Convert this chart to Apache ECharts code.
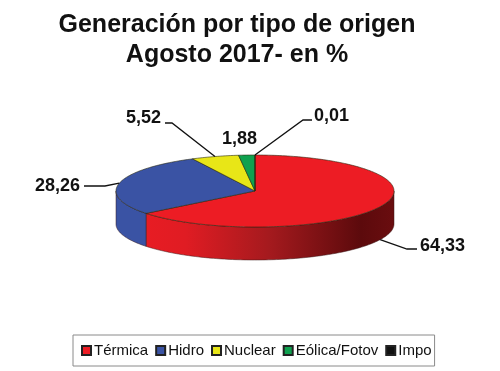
<!DOCTYPE html>
<html><head><meta charset="utf-8">
<style>html,body{margin:0;padding:0;background:#fff}#c{width:500px;height:371px}</style>
<script src="https://cdn.jsdelivr.net/npm/echarts@6/dist/echarts.min.js"></script>
</head><body><div id="c"></div>
<script>
const categories = ['Térmica','Hidro','Nuclear','Eólica/Fotov','Impo'];
const values = [64.33,28.26,5.52,1.88,0.01];
const valueLabels = ['64,33','28,26','5,52','1,88','0,01'];
const colors = ['#ed1c24','#3a53a4','#e8e617','#0fa14f','#111111'];
const sideColors = ['#ed1c24','#3a53a4','#b5b312','#0b7a3c','#111111'];

const cx=255, cy=191, rx=139, ry=36, depth=33;
const labelLayout = [
  {elbow:[407,249],end:[417,249],text:[420,246]},
  {elbow:[105,186],end:[84,186],text:[35,186]},
  {elbow:[172,123],end:[165,123],text:[126,118]},
  {text:[222,139]},
  {elbow:[303,120],end:[312,120],text:[314,116]}
];
const total = values.reduce((a,b)=>a+b,0);
const rim=(a,dy)=>[cx+rx*Math.sin(a),cy-ry*Math.cos(a)+(dy||0)];
function arc(a0,a1,dy){const n=Math.max(2,Math.ceil(Math.abs(a1-a0)/0.02));const p=[];
  for(let i=0;i<=n;i++)p.push(rim(a0+(a1-a0)*i/n,dy));return p;}
const starts=[];let acc=0;values.forEach(v=>{starts.push(acc);acc+=v;});
const ang=v=>v/total*Math.PI*2;

function renderSlice(idx){
  return function(){
    const a0=ang(starts[idx]),a1=ang(starts[idx]+values[idx]);
    const children=[];
    const lo=Math.max(a0,Math.PI/2),hi=Math.min(a1,Math.PI*1.5);
    if(hi>lo){
      const top=arc(lo,hi,0),bot=arc(hi,lo,depth);
      let fill=sideColors[idx];
      if(idx===0)fill={type:'linear',global:true,x:cx-rx,y:0,x2:cx+rx,y2:0,colorStops:[
        {offset:0,color:'#ed1c24'},{offset:0.25,color:'#e01c23'},{offset:0.55,color:'#a51a1e'},{offset:0.88,color:'#5c0a0c'},{offset:1,color:'#6a0d0f'}]};
      children.push({type:'polygon',shape:{points:top.concat(bot)},style:{fill,stroke:'#3a1a1a',lineWidth:0.5}});
    }
    children.push({type:'polygon',shape:{points:[[cx,cy]].concat(arc(a0,a1,0))},
      style:{fill:colors[idx],stroke:'#2a2a10',lineWidth:0.6}});
    const L=labelLayout[idx];
    if(L.elbow){
      const m=(a0+a1)/2;const front=Math.cos(m)<0;
      children.push({type:'polyline',shape:{points:[rim(m,front?depth:0),L.elbow,L.end]},
        style:{fill:'none',stroke:'#111',lineWidth:1.3},z2:5});
    }
    children.push({type:'text',x:L.text[0],y:L.text[1],z2:6,style:{text:valueLabels[idx],
      font:'bold 18px "Liberation Sans",Arial,sans-serif',fill:'#111',textVerticalAlign:'middle',textAlign:'left'}});
    return {type:'group',children};
  };
}

const chart=echarts.init(document.getElementById('c'),null,{renderer:'canvas'});
chart.setOption({
  animation:false,
  backgroundColor:'#fff',
  title:{text:'Generación por tipo de origen\nAgosto 2017- en %',left:232,top:5,textAlign:'center',
    textStyle:{fontFamily:'"Liberation Sans",Arial,sans-serif',fontWeight:'bold',fontSize:25,lineHeight:30,color:'#111'}},
  legend:{data:categories,left:73,top:335,orient:'horizontal',itemWidth:9,itemHeight:9,itemGap:7,
    padding:[8,3,8,8],borderColor:'#8a8a8a',borderWidth:1,icon:'rect',
    textStyle:{fontFamily:'"Liberation Sans",Arial,sans-serif',fontSize:15,color:'#111',padding:[0,0,0,-2]}},
  series:categories.map((name,i)=>({
    type:'custom',name,coordinateSystem:'none',data:[values[i]],
    itemStyle:{color:colors[i],borderColor:'#222',borderWidth:1},
    renderItem:renderSlice(i),silent:true
  }))
});
</script></body></html>
